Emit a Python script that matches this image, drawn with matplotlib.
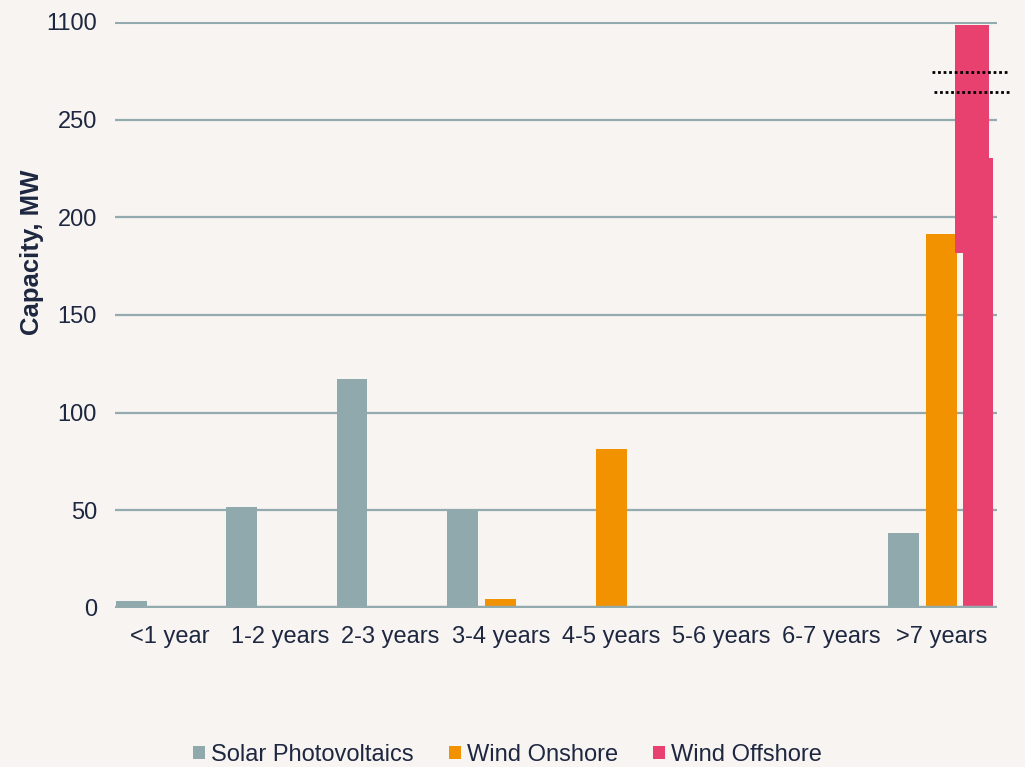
import matplotlib.pyplot as plt
import numpy as np

plt.rcParams['font.family'] = ['Liberation Sans', 'DejaVu Sans']

categories = ['<1 year', '1-2 years', '2-3 years', '3-4 years',
              '4-5 years', '5-6 years', '6-7 years', '>7 years']
solar = [3.5, 51.7, 117.2, 50.2, 0, 0, 0, 38.4]
onshore = [0, 0, 0, 4.5, 81.4, 0, 0, 191.5]
# offshore only has capacity in the last bin; it runs past the break (1100 MW)
offshore_lower = 230.4
offshore_upper = (181.8, 298.5)
break_marks = [274.6, 264.3]

y_ticks = [0, 50, 100, 150, 200, 250, 300]
y_tick_labels = ['0', '50', '100', '150', '200', '250', '1100']

bg = '#F7F4F1'
grid_col = '#93ABAE'
text_col = '#1E2740'
c_solar = '#8FA9AC'
c_onshore = '#F39200'
c_offshore = '#E84170'

fig = plt.figure(figsize=(10.25, 7.67), dpi=100, facecolor=bg)
ax = fig.add_axes([115 / 1025, 1 - 608 / 767, 882 / 1025, 586 / 767])
ax.set_facecolor(bg)

x = np.arange(len(categories))
w = 0.28
ax.bar(x - 0.35, solar, w, color=c_solar, zorder=3, label='Solar Photovoltaics')
ax.bar(x, onshore, w, color=c_onshore, zorder=3, label='Wind Onshore')

last = x[-1]
ax.bar(last + 0.33, offshore_lower, 0.27, color=c_offshore, zorder=3, label='Wind Offshore')
ax.bar(last + 0.273, offshore_upper[1] - offshore_upper[0], 0.31,
       bottom=offshore_upper[0], color=c_offshore, zorder=3)

# break markers across the offshore bar
ax.plot([last - 0.09, last + 0.59], [break_marks[0]] * 2, color='black',
        ls=(0, (1, 1)), lw=2, zorder=4, clip_on=False)
ax.plot([last - 0.07, last + 0.62], [break_marks[1]] * 2, color='black',
        ls=(0, (1, 1)), lw=2, zorder=4, clip_on=False)

for y in y_ticks[1:]:
    ax.axhline(y, color=grid_col, lw=1.6 if y < 300 else 2.2, zorder=1)
ax.axhline(0, color=grid_col, lw=3.2, zorder=4)

ax.set_xlim(-0.5, len(categories) - 0.5)
ax.set_ylim(0, 300)
ax.set_yticks(y_ticks)
ax.set_yticklabels(y_tick_labels)
ax.set_xticks(x)
ax.set_xticklabels(categories)
ax.tick_params(axis='both', length=0, labelsize=17, labelcolor=text_col)
ax.tick_params(axis='x', pad=13)
ax.tick_params(axis='y', pad=13)
for s in ax.spines.values():
    s.set_visible(False)

fig.text(32 / 1025, 1 - 252 / 767, 'Capacity, MW', rotation=90, ha='center',
         va='center', fontsize=18.5, fontweight='bold', color=text_col)

fig.legend(loc='center', bbox_to_anchor=(0.495, 0.016), ncol=3, frameon=False,
           fontsize=17, labelcolor=text_col, handlelength=0.5, handleheight=0.5,
           handletextpad=0.25, columnspacing=1.5)

fig.savefig('out.png', dpi=100, facecolor=bg)
